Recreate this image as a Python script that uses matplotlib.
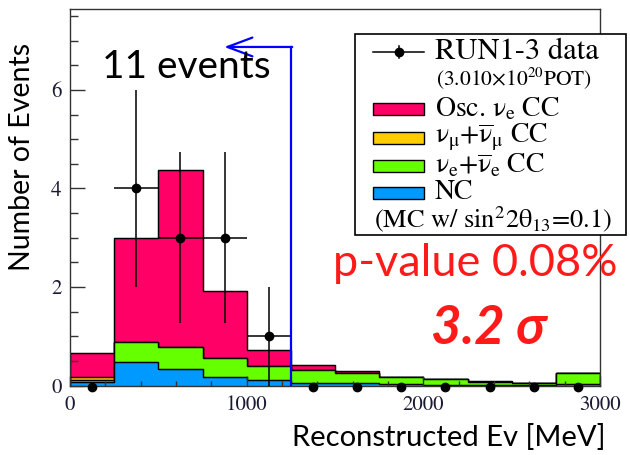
import numpy as np
import matplotlib
matplotlib.use("Agg")
import matplotlib.pyplot as plt
from matplotlib.patches import Rectangle
from matplotlib.lines import Line2D

# upright greek in math text, Times-like
plt.rcParams['mathtext.fontset'] = 'custom'
plt.rcParams['mathtext.rm'] = 'STIXGeneral'
plt.rcParams['mathtext.it'] = 'STIXGeneral'
plt.rcParams['mathtext.bf'] = 'STIXGeneral:bold'

# binning of the reconstructed energy (MeV)
bin_edges = np.arange(0, 3001, 250)

# stacked MC components per bin
nc = [0.07, 0.48, 0.33, 0.18, 0.11, 0.06, 0.05, 0.03, 0.02, 0.02, 0.02, 0.03]
nue_bg = [0.05, 0.40, 0.46, 0.38, 0.29, 0.25, 0.20, 0.14, 0.11, 0.06, 0.04, 0.23]
numu_bg = [0.05, 0.01, 0.0, 0.0, 0.0, 0.0, 0.0, 0.0, 0.0, 0.0, 0.0, 0.0]
osc_nue = [0.49, 2.11, 3.58, 1.36, 0.32, 0.10, 0.04, 0.01, 0.0, 0.01, 0.0, 0.0]

# observed events
data_counts = [0, 4, 3, 3, 1, 0, 0, 0, 0, 0, 0, 0]

cut_energy = 1250
arrow_end = 873
arrow_y = 6.87

col_osc = '#ff0066'
col_numu = '#ffcc00'
col_nue = '#66ff00'
col_nc = '#0099ff'

W, H = 630, 455
fig = plt.figure(figsize=(W / 100, H / 100), dpi=100)
ax = fig.add_axes([70 / W, 1 - 385.7 / H, 530 / W, 376.7 / H])

def px(x, y):
    return (x / W, 1 - y / H)

# stacked histogram, drawn from the total down
s1 = np.array(nc)
s2 = s1 + np.array(nue_bg)
s3 = s2 + np.array(numu_bg)
s4 = s3 + np.array(osc_nue)
for top, c in [(s4, col_osc), (s3, col_numu), (s2, col_nue), (s1, col_nc)]:
    ax.stairs(top, bin_edges, baseline=0, fill=True, facecolor=c,
              edgecolor='black', linewidth=0.9)
    ax.stairs(top, bin_edges, baseline=0, fill=False,
              edgecolor='black', linewidth=0.9)

# data points
centers = 0.5 * (bin_edges[:-1] + bin_edges[1:])
counts = np.array(data_counts, dtype=float)
err = np.sqrt(counts)
lo = np.minimum(err, counts)
nz = counts > 0
ax.errorbar(centers[nz], counts[nz], yerr=[lo[nz], err[nz]], xerr=125,
            fmt='o', color='black', ms=6, lw=1.1, capsize=0, zorder=5)
ax.plot(centers[~nz], counts[~nz] - 0.03, 'o', color='black', ms=6,
        clip_on=False, zorder=5)

# selection arrow
ax.plot([cut_energy, cut_energy], [0, arrow_y], color='#0000ff', lw=1.6, zorder=6)
ax.annotate('', xy=(arrow_end, arrow_y), xytext=(cut_energy + 8, arrow_y),
            arrowprops=dict(arrowstyle='->,head_length=1.2,head_width=0.45',
                            mutation_scale=15, color='#0000ff', lw=1.6,
                            shrinkA=0, shrinkB=0), zorder=6)

ax.set_xlim(0, 3000)
ax.set_ylim(0, 7.64)
ax.set_xticks([0, 1000, 2000, 3000])
ax.set_xticks(np.arange(0, 3001, 200), minor=True)
ax.set_yticks([0, 2, 4, 6])
ax.set_yticks(np.arange(0, 7.6, 0.5), minor=True)
ax.tick_params(axis='both', which='both', direction='in', color='#333333',
               labelsize=15, labelcolor='#1a1a33')
ax.tick_params(axis='y', which='major', length=11, width=1, pad=6)
ax.tick_params(axis='y', which='minor', length=5.5, width=1)
ax.tick_params(axis='x', which='major', length=7, width=1, pad=7)
ax.tick_params(axis='x', which='minor', length=3.5, width=1)
for lab in ax.get_xticklabels() + ax.get_yticklabels():
    lab.set_family('STIXGeneral')
for sp in ax.spines.values():
    sp.set_color('#333333')
    sp.set_linewidth(1)

sans = ['Lato', 'Open Sans', 'DejaVu Sans']
fig.text(*px(22, 157), 'Number of Events', rotation=90, ha='center', va='center',
         fontsize=20.5, family=sans)
fig.text(*px(605, 437), 'Reconstructed Ev [MeV]', ha='right', va='center',
         fontsize=21, family=sans)
fig.text(*px(186, 67), '11 events', ha='center', va='center', fontsize=28,
         family=sans)
fig.text(*px(475, 263), 'p-value 0.08%', ha='center', va='center', fontsize=32.5,
         color='#ff1a1a', family=sans)
fig.text(*px(489, 328), '3.2 σ', ha='center', va='center', fontsize=38,
         color='#ff1a1a', family=sans, fontweight='bold', fontstyle='italic')

# legend box
x0, y0, x1, y1 = 355, 34, 626, 235
fig.add_artist(Rectangle(px(x0, y1), (x1 - x0) / W, (y1 - y0) / H,
                         transform=fig.transFigure, facecolor='white',
                         edgecolor='black', linewidth=1.2, zorder=10))
fig.add_artist(Line2D([373 / W, 424 / W], [1 - 52 / H, 1 - 52 / H],
                      color='black', lw=1.1, zorder=11))
fig.add_artist(Line2D([399 / W, 399 / W], [1 - 46 / H, 1 - 58 / H],
                      color='black', lw=1.1, zorder=11))
fig.add_artist(Line2D([399 / W], [1 - 52 / H], marker='o', ms=6,
                      color='black', zorder=11))
serif = 'STIXGeneral'
fig.text(*px(435, 52), 'RUN1-3 data', ha='left', va='center', fontsize=22,
         family=serif, zorder=12)
fig.text(*px(436, 78), r'(3.010$\times$10$^{20}$POT)', ha='left', va='center',
         fontsize=15.5, family=serif, zorder=12)
nu = r'\mathrm{ν}'
mu = r'\mathrm{μ}'
entries = [(108.5, col_osc, r'Osc. $%s_{e}$ CC' % nu),
           (137.5, col_numu, r'$%s_{%s}$+$\overline{%s}_{%s}$ CC' % (nu, mu, nu, mu)),
           (165.5, col_nue, r'$%s_{e}$+$\overline{%s}_{e}$ CC' % (nu, nu)),
           (192.5, col_nc, 'NC')]
for yc, c, lab in entries:
    fig.add_artist(Rectangle(px(373, yc + 6), 51 / W, 12 / H,
                             transform=fig.transFigure, facecolor=c,
                             edgecolor='black', linewidth=1, zorder=11))
    fig.text(*px(435, yc), lab, ha='left', va='center', fontsize=20,
             family=serif, zorder=12)
fig.text(*px(374, 219.5), r'(MC w/ sin$^2$2$\mathrm{θ}_{13}$=0.1)', ha='left',
         va='center', fontsize=19, family=serif, zorder=12)

fig.savefig('out.png', dpi=100)
